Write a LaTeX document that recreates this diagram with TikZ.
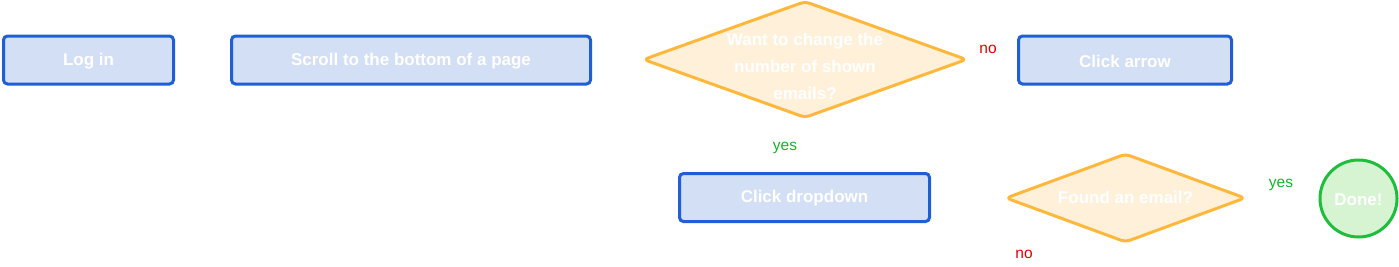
\documentclass[tikz,border=0pt]{standalone}
\usepackage{fontspec}
\setmainfont{Liberation Sans}
\usetikzlibrary{shapes.geometric}
\definecolor{bblue}{RGB}{31,94,214}
\definecolor{fblue}{RGB}{210,223,245}
\definecolor{borange}{RGB}{255,184,60}
\definecolor{forange}{RGB}{255,240,218}
\definecolor{bgreen}{RGB}{30,190,60}
\definecolor{fgreen}{RGB}{214,243,210}
\definecolor{lred}{RGB}{225,0,0}
\definecolor{lgreen}{RGB}{20,180,40}
\begin{document}
\begin{tikzpicture}[x=1pt,y=-1pt,
  stepbox/.style={draw=bblue,fill=fblue,line width=3pt,rounded corners=4pt,minimum height=48pt,inner sep=0pt},
  decbox/.style={draw=borange,fill=forange,line width=3pt,diamond,rounded corners=5pt,inner sep=0pt},
  endbox/.style={draw=bgreen,fill=fgreen,line width=3pt,circle,inner sep=0pt,minimum size=77pt},
  txt/.style={text=white,font=\bfseries\fontsize{17}{27}\selectfont,align=center},
  nolab/.style={text=lred,font=\fontsize{15.5}{18}\selectfont},
  yeslab/.style={text=lgreen,font=\fontsize{15.5}{18}\selectfont}]
\useasboundingbox (0,0) rectangle (1399,266);
\node[stepbox,minimum width=170pt] (login) at (88.5,60) {};
\node[txt] at ([yshift=-1.5pt]login.center) {Log in};
\node[stepbox,minimum width=359pt] (scroll) at (411,60) {};
\node[txt] at ([yshift=-1.5pt]scroll.center) {Scroll to the bottom of a page};
\node[decbox,minimum width=324pt,minimum height=117pt] (want) at (805,59.5) {};
\node[txt] (wanttxt) at ([yshift=-7pt]want.center) {Want to change the\\number of shown\\emails?};
\node[stepbox,minimum width=213pt] (arrow) at (1125,60) {};
\node[txt] at ([yshift=-1.5pt]arrow.center) {Click arrow};
\node[stepbox,minimum width=250pt] (drop) at (804.5,197.5) {};
\node[txt] at ([yshift=-1pt]drop.center) {Click dropdown};
\node[decbox,minimum width=240pt,minimum height=89pt] (found) at (1125.5,198) {};
\node[txt] at ([yshift=0.5pt]found.center) {Found an email?};
\node[endbox] (done) at (1358.5,198.5) {};
\node[txt] at ([yshift=-1pt]done.center) {Done!};
\node[nolab] (no1) at (988,49) {no};
\node[yeslab] (yes1) at (785,148) {yes};
\node[yeslab] (yes2) at (1281,185) {yes};
\node[nolab] (no2) at (1024,254) {no};
\end{tikzpicture}
\end{document}
